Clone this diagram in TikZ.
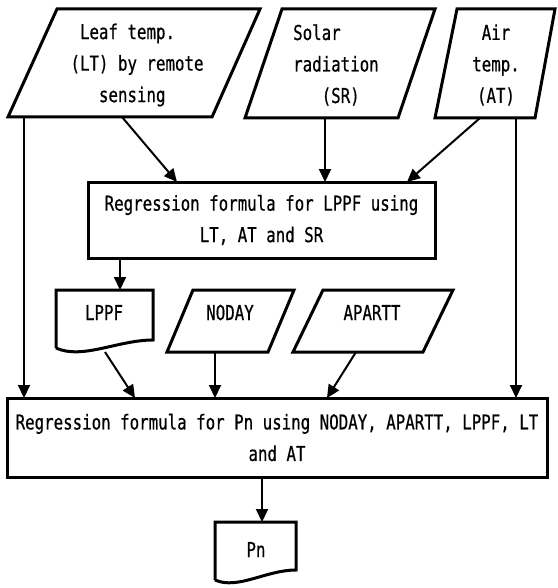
\documentclass[tikz,border=0pt]{standalone}
\usepackage{fontspec}
\newfontfamily\gfont[FakeStretch=0.77,FakeBold=0.6]{DejaVu Sans Mono}
\usetikzlibrary{arrows.meta}
\begin{document}
\begin{tikzpicture}[x=1pt,y=-1pt,
  shp/.style={line width=3pt, line join=miter},
  arr/.style={line width=2pt,-{Triangle[length=13pt,width=12pt]}},
  txt/.style={font=\gfont\fontsize{20.5}{31.5}\selectfont, inner sep=0pt},
  box/.style={draw, line width=3pt, txt, align=center}]
\useasboundingbox (0,0) rectangle (557,588);

% input parallelograms
\draw[shp] (57,9) -- (260,9) -- (212,117) -- (8,117) -- cycle;
\draw[shp] (282,9) -- (435,9) -- (398,118) -- (245,118) -- cycle;
\draw[shp] (457,9) -- (555,9) -- (535,118) -- (435,118) -- cycle;
\node[txt, align=left] (leaf) at (137,65) {\hphantom{(}Leaf temp.\\(LT) by remote\\\hphantom{(LT}sensing};
\node[txt, align=left, anchor=west] (solar) at (293,65) {Solar\\radiation\\\hphantom{rad}(SR)};
\node[txt, align=center] (air) at (496,65) {Air\\temp.\\(AT)};

\coordinate (leafB) at (122,117);
\coordinate (leafL) at (24,117);
\coordinate (solarB) at (325,118);
\coordinate (airB) at (480,118);
\coordinate (airR) at (516,118);

% box 1
\node[box, minimum width=347pt, minimum height=76pt] (box1) at (261.5,220)
  {Regression formula for LPPF using\\LT, AT and SR};
\coordinate (b1a) at (177,182);
\coordinate (b1b) at (325,182);
\coordinate (b1c) at (407,182);
\coordinate (b1out) at (120,258);

\draw[arr] (leafB) -- (b1a);
\draw[arr] (solarB) -- (b1b);
\draw[arr] (airB) -- (b1c);

% middle row
\coordinate (lppfT) at (120,290);
\draw[shp] (56,348) -- (56,290) -- (153,290) -- (153,340)
  .. controls (118,340) and (82,360) .. (56,348);
\node[txt, anchor=base] (lppf) at (104,320) {LPPF};
\draw[shp] (193,290) -- (294,290) -- (268,352) -- (167,352) -- cycle;
\node[txt, anchor=base] (noday) at (230,320) {NODAY};
\draw[shp] (323,290) -- (453,290) -- (423,352) -- (293,352) -- cycle;
\node[txt, anchor=base] (apartt) at (372,320) {APARTT};

\draw[arr] (b1out) -- (lppfT);

\coordinate (lppfB) at (105,352);
\coordinate (nodayB) at (215,352);
\coordinate (aparttB) at (356,352);

% box 2
\node[box, minimum width=540pt, minimum height=79pt] (box2) at (277,437.5)
  {Regression formula for Pn using NODAY, APARTT, LPPF, LT\\and AT};
\coordinate (b2l) at (24,398);
\coordinate (b2a) at (135,398);
\coordinate (b2b) at (215,398);
\coordinate (b2c) at (327,398);
\coordinate (b2r) at (516,398);
\coordinate (b2out) at (262,477);

\draw[arr] (leafL) -- (b2l);
\draw[arr] (airR) -- (b2r);
\draw[arr] (lppfB) -- (b2a);
\draw[arr] (nodayB) -- (b2b);
\draw[arr] (aparttB) -- (b2c);

% output
\coordinate (pnT) at (262,522);
\draw[shp] (215,580) -- (215,522) -- (296,522) -- (296,570)
  .. controls (266,570) and (238,590) .. (215,580);
\node[txt, anchor=base] (pn) at (256,557) {Pn};
\draw[arr] (b2out) -- (pnT);
\end{tikzpicture}
\end{document}
